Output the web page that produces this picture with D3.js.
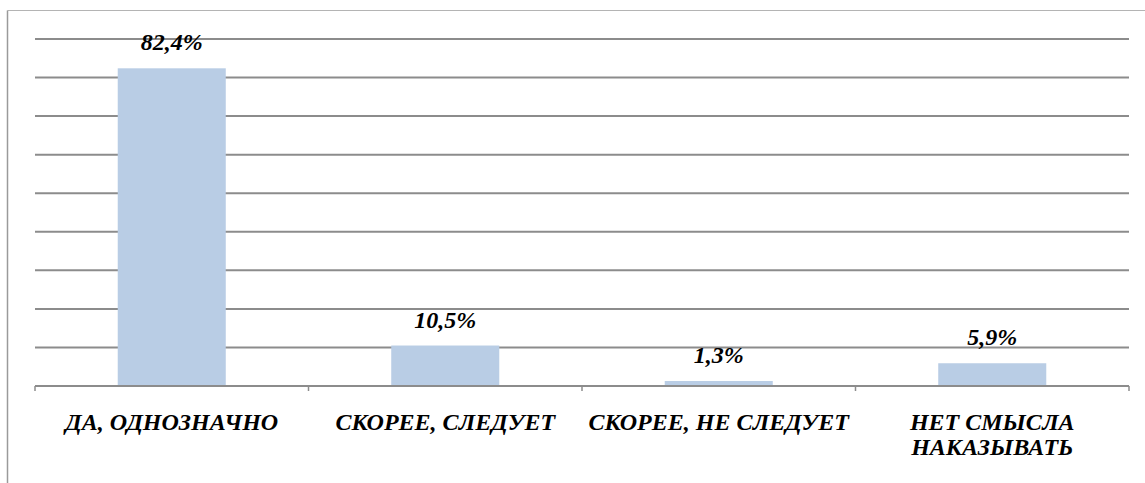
<!DOCTYPE html>
<html>
<head>
<meta charset="utf-8">
<script src="https://cdn.jsdelivr.net/npm/d3@7"></script>
<style>
  body { margin: 0; background: #fff; }
  svg { display: block; }
</style>
</head>
<body>
<div id="chart"></div>
<script>
// chart values
var categories = ["ДА, ОДНОЗНАЧНО", "СКОРЕЕ, СЛЕДУЕТ", "СКОРЕЕ, НЕ СЛЕДУЕТ", "НЕТ СМЫСЛА\nНАКАЗЫВАТЬ"];
var values = [82.4, 10.5, 1.3, 5.9];
var gridTicks = [0, 10, 20, 30, 40, 50, 60, 70, 80, 90];

var width = 1145, height = 483;
var plotLeft = 35, plotRight = 1129, plotTop = 39, plotBottom = 386;
var fontFamily = "'Liberation Serif', 'Times New Roman', Times, serif";

var svg = d3.select("#chart").append("svg")
    .attr("width", width)
    .attr("height", height);

// outer frame (only top and left show in the picture)
svg.append("line")
    .attr("x1", 7.5).attr("y1", 10.5).attr("x2", width).attr("y2", 10.5)
    .style("stroke", "#b4b4b4").style("stroke-width", 1);
svg.append("line")
    .attr("x1", 7.5).attr("y1", 10.5).attr("x2", 7.5).attr("y2", height)
    .style("stroke", "#9a9a9a").style("stroke-width", 1.5);

var x = d3.scaleBand()
    .domain(categories)
    .range([plotLeft, plotRight])
    .paddingInner(0.605)
    .paddingOuter(0.3025);

var xEdge = d3.scaleLinear().domain([0, categories.length]).range([plotLeft, plotRight]);

var y = d3.scaleLinear()
    .domain([0, 90])
    .range([plotBottom, plotTop]);

// horizontal grid
svg.selectAll(".grid")
    .data(gridTicks.slice(1))
    .enter()
    .append("line")
    .attr("class", "grid")
    .attr("x1", plotLeft).attr("x2", plotRight)
    .attr("y1", function(d) { return y(d); })
    .attr("y2", function(d) { return y(d); })
    .style("stroke", "#8c8c8c").style("stroke-width", 2);

// bars
svg.selectAll(".bar")
    .data(values)
    .enter()
    .append("rect")
    .attr("class", "bar")
    .attr("x", function(d, i) { return x(categories[i]); })
    .attr("width", x.bandwidth())
    .attr("y", function(d) { return y(d); })
    .attr("height", function(d) { return y(0) - y(d); })
    .attr("fill", "#b9cde5");

// x axis line and tick marks between categories
svg.append("line")
    .attr("x1", plotLeft).attr("x2", plotRight)
    .attr("y1", plotBottom).attr("y2", plotBottom)
    .style("stroke", "#8c8c8c").style("stroke-width", 2);

svg.selectAll(".tick")
    .data(d3.range(categories.length + 1))
    .enter()
    .append("line")
    .attr("class", "tick")
    .attr("x1", function(d) { return xEdge(d); })
    .attr("x2", function(d) { return xEdge(d); })
    .attr("y1", plotBottom)
    .attr("y2", plotBottom + 5)
    .style("stroke", "#8c8c8c").style("stroke-width", 1.5);

// value labels
svg.selectAll(".val")
    .data(values)
    .enter()
    .append("text")
    .attr("class", "val")
    .attr("x", function(d, i) { return x(categories[i]) + x.bandwidth() / 2; })
    .attr("y", function(d) { return y(d) - 18; })
    .attr("text-anchor", "middle")
    .style("font-family", fontFamily)
    .style("font-weight", "bold")
    .style("font-style", "italic")
    .style("font-size", "24px")
    .text(function(d) { return d.toFixed(1).replace(".", ",") + "%"; });

// category labels
var cat = svg.selectAll(".cat")
    .data(categories)
    .enter()
    .append("text")
    .attr("class", "cat")
    .attr("x", function(d) { return x(d) + x.bandwidth() / 2; })
    .attr("y", 430)
    .attr("text-anchor", "middle")
    .style("font-family", fontFamily)
    .style("font-weight", "bold")
    .style("font-style", "italic")
    .style("font-size", "24px");

cat.selectAll("tspan")
    .data(function(d) { return d.split("\n"); })
    .enter()
    .append("tspan")
    .attr("x", function() { return d3.select(this.parentNode).attr("x"); })
    .attr("dy", function(d, i) { return i === 0 ? 0 : 25; })
    .text(function(d) { return d; });
</script>
</body>
</html>
